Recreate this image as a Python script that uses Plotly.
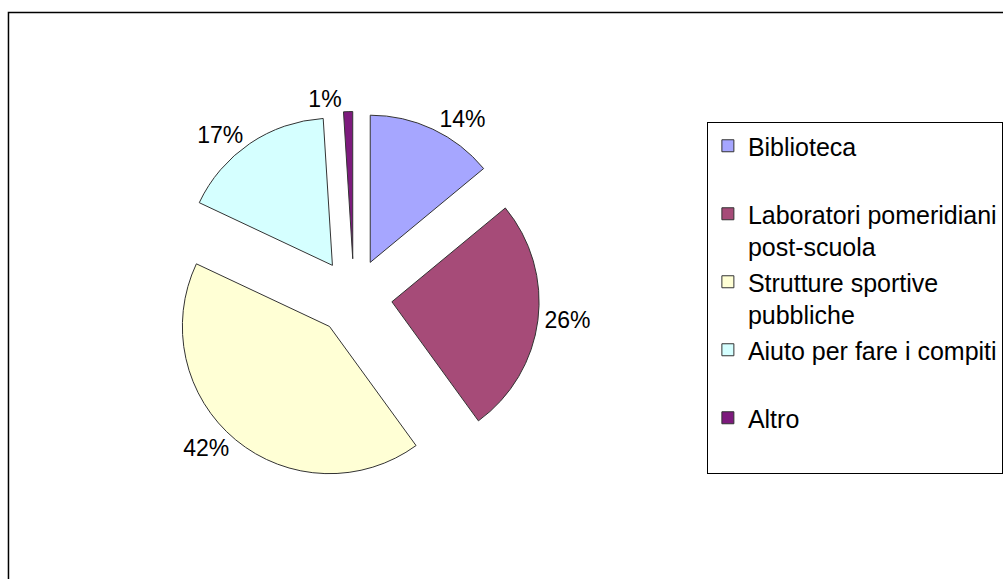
import plotly.graph_objects as go

# Survey answers: share of responses per service (percent)
categories = [
    "Biblioteca<br> ",
    "Laboratori pomeridiani<br>post-scuola",
    "Strutture sportive<br>pubbliche",
    "Aiuto per fare i compiti<br> ",
    "Altro<br> ",
]
values = [14, 26, 42, 17, 1]
colors = ["#A6A6FF", "#A64B78", "#FFFFD5", "#D5FFFF", "#7D1A7D"]

W, H = 1003, 579
cx, cy, half = 355, 297, 186  # pie centre and half-size of its domain, px

fig = go.Figure(
    go.Pie(
        labels=categories,
        values=values,
        sort=False,
        direction="clockwise",
        rotation=0,
        pull=[0.26] * len(values),
        marker=dict(colors=colors, line=dict(color="#333333", width=1)),
        textinfo="percent",
        textposition="outside",
        texttemplate="%{percent:.0%}",
        textfont=dict(family="Liberation Sans, Arial, sans-serif", size=23, color="black"),
        domain=dict(
            x=[(cx - half) / W, (cx + half) / W],
            y=[(H - cy - half) / H, (H - cy + half) / H],
        ),
        hoverinfo="label+percent",
    )
)

fig.update_layout(
    width=W,
    height=H,
    margin=dict(l=0, r=0, t=0, b=0),
    paper_bgcolor="white",
    plot_bgcolor="white",
    font=dict(family="Liberation Sans, Arial, sans-serif", size=25, color="black"),
    legend=dict(
        x=709 / W,
        xanchor="left",
        y=1 - 122 / H,
        yanchor="top",
        bordercolor="black",
        borderwidth=1,
        bgcolor="white",
        valign="top",
        font=dict(size=25),
    ),
    shapes=[
        dict(
            type="rect",
            xref="paper",
            yref="paper",
            x0=8.5 / W,
            x1=1.05,
            y0=-0.05,
            y1=1 - 12.5 / H,
            line=dict(color="black", width=1.5),
            fillcolor="rgba(0,0,0,0)",
            layer="below",
        )
    ],
)

fig.write_html("out.html")
